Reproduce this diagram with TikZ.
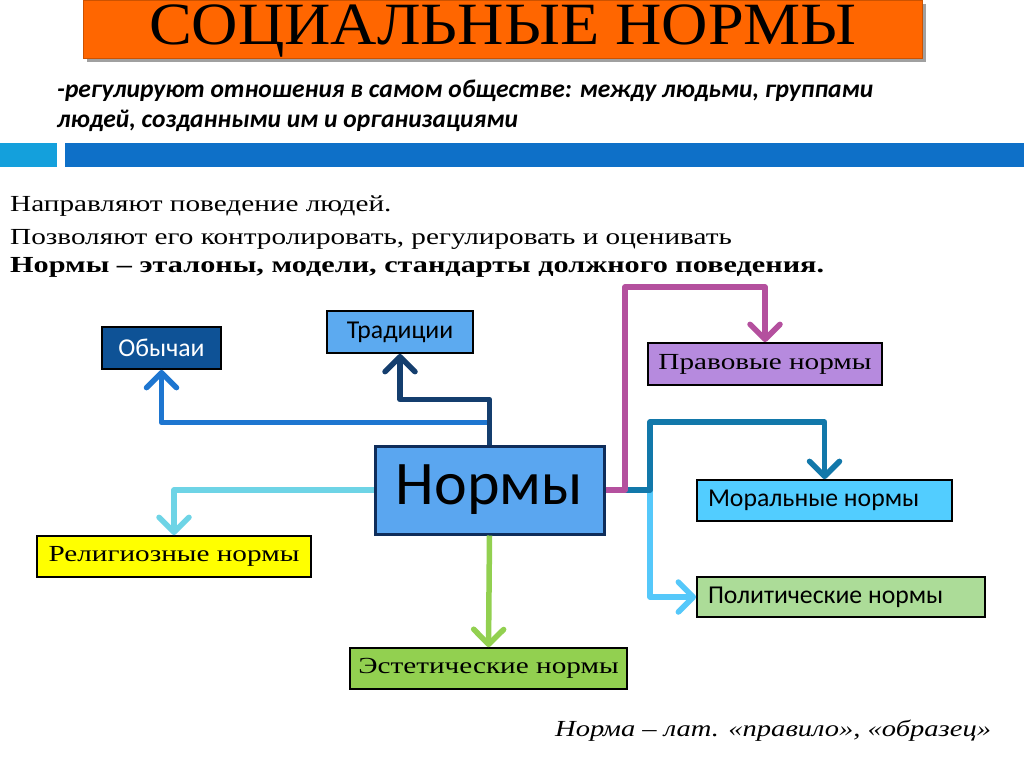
\documentclass[tikz,border=0pt]{standalone}
\usepackage{fontspec}
\setmainfont{Liberation Serif}
\newfontfamily\calfont{Carlito}
\usetikzlibrary{arrows.meta}
\definecolor{titleor}{RGB}{255,102,0}
\definecolor{shadowgr}{RGB}{160,160,160}
\definecolor{barlight}{RGB}{20,160,220}
\definecolor{barblue}{RGB}{14,112,200}
\definecolor{obfill}{RGB}{14,82,150}
\definecolor{trfill}{RGB}{92,170,240}
\definecolor{prfill}{RGB}{182,138,222}
\definecolor{nfill}{RGB}{90,166,240}
\definecolor{ndraw}{RGB}{15,45,90}
\definecolor{mofill}{RGB}{82,205,255}
\definecolor{relfill}{RGB}{255,255,0}
\definecolor{pofill}{RGB}{172,220,152}
\definecolor{esfill}{RGB}{146,208,80}
\definecolor{cblue}{RGB}{30,118,208}
\definecolor{cnavy}{RGB}{20,62,110}
\definecolor{cpink}{RGB}{180,80,158}
\definecolor{cteal}{RGB}{18,120,170}
\definecolor{clblue}{RGB}{85,200,250}
\definecolor{ccyan}{RGB}{110,212,230}
\definecolor{cgreen}{RGB}{146,208,80}
\newcommand{\serifnode}[1]{\fontsize{23}{23}\selectfont\scalebox{1.27}[1]{#1}}
\newcommand{\sansnode}[1]{\calfont\fontsize{25.7}{25.7}\selectfont #1}
\begin{document}
\begin{tikzpicture}[x=1pt,y=-1pt,
  box/.style={draw=black, line width=1.8pt, inner sep=0pt, align=center},
  lbox/.style={draw=black, line width=1.8pt, inner xsep=11pt, inner ysep=0pt},
  conn/.style={line width=5.5pt, line join=round,
    -{Straight Barb[length=15pt,width=30pt,line cap=round,line join=round]}},
  txt/.style={inner sep=0pt, anchor=base west}]
\useasboundingbox (0,0) rectangle (1024,767);
\fill[white] (0,0) rectangle (1024,767);
% title
\fill[shadowgr] (87,4) rectangle (926,62);
\node[fill=titleor, draw=titleor!80!black, line width=0.6pt, minimum width=839pt, minimum height=58pt, inner sep=0pt] (title) at (502.5,29) {};
\node[inner sep=0pt, anchor=base] (titletext) at (503,45)
  {\fontsize{60}{60}\selectfont\scalebox{1.07}[1]{СОЦИАЛЬНЫЕ НОРМЫ}};
\node[txt] (sub1) at (57,98) {\calfont\bfseries\itshape\fontsize{25.5}{25.5}\selectfont -регулируют отношения в самом обществе: между людьми, группами};
\node[txt] (sub2) at (57,128) {\calfont\bfseries\itshape\fontsize{25.5}{25.5}\selectfont людей, созданными им и организациями};
% bars
\fill[barlight] (0,143) rectangle (57,167);
\fill[barblue] (65,143) rectangle (1024,167);
% body text
\node[txt] (l1) at (10,212) {\fontsize{23}{23}\selectfont\scalebox{1.27}[1]{Направляют поведение людей.}};
\node[txt] (l2) at (10,244) {\fontsize{23}{23}\selectfont\scalebox{1.27}[1]{Позволяют его контролировать, регулировать и оценивать}};
\node[txt] (l3) at (10,272) {\fontsize{23}{23}\selectfont\bfseries\scalebox{1.315}[1]{Нормы – эталоны, модели, стандарты должного поведения.}};
% nodes
\node[box, fill=obfill, minimum width=119pt, minimum height=42pt, text=white] (obych) at (161.5,348) {\sansnode{Обычаи}};
\node[box, fill=trfill, minimum width=146pt, minimum height=42pt] (trad) at (400,332) {\sansnode{Традиции}};
\node[box, fill=prfill, minimum width=234pt, minimum height=42pt] (prav) at (765,364) {\serifnode{Правовые нормы}};
\node[box, fill=nfill, draw=ndraw, line width=3pt, minimum width=229pt, minimum height=88pt] (norms) at (489.5,490) {\calfont\fontsize{62}{62}\selectfont Нормы};
\node[lbox, fill=mofill, minimum height=41pt] (moral) at (824.5,500.5) {\makebox[233pt][l]{\sansnode{Моральные нормы}}};
\node[box, fill=relfill, minimum width=274pt, minimum height=41pt] (relig) at (174,556.5) {\serifnode{Религиозные нормы}};
\node[lbox, fill=pofill, minimum height=40pt] (polit) at (841,597) {\makebox[266pt][l]{\sansnode{Политические нормы}}};
\node[box, fill=esfill, minimum width=277pt, minimum height=41pt] (esth) at (488.5,668.5) {\serifnode{Эстетические нормы}};
\node[txt] (note) at (555,736) {\fontsize{23}{23}\selectfont\itshape\scalebox{1.24}[1]{Норма – лат. «правило», «образец»}};
% connectors
\coordinate (pk) at (625,287);
\coordinate (tk) at (650,422);
\coordinate (tj) at (650,490);
\draw[conn, cblue] (norms.north) -- ++(0,-22) -| (obych.south);
\draw[conn, cnavy] (norms.north) -- ++(0,-45) -| (trad.south);
\draw[conn, clblue] (tj) |- (polit.west);
\draw[conn, cteal] (norms.east) -| (tk) -| (moral.north);
\draw[conn, cpink] (norms.east) -| (pk) -| (prav.north);
\draw[conn, ccyan] (norms.west) -| (relig.north);
\draw[conn, cgreen] (norms.south) -- (esth.north);
\end{tikzpicture}
\end{document}
